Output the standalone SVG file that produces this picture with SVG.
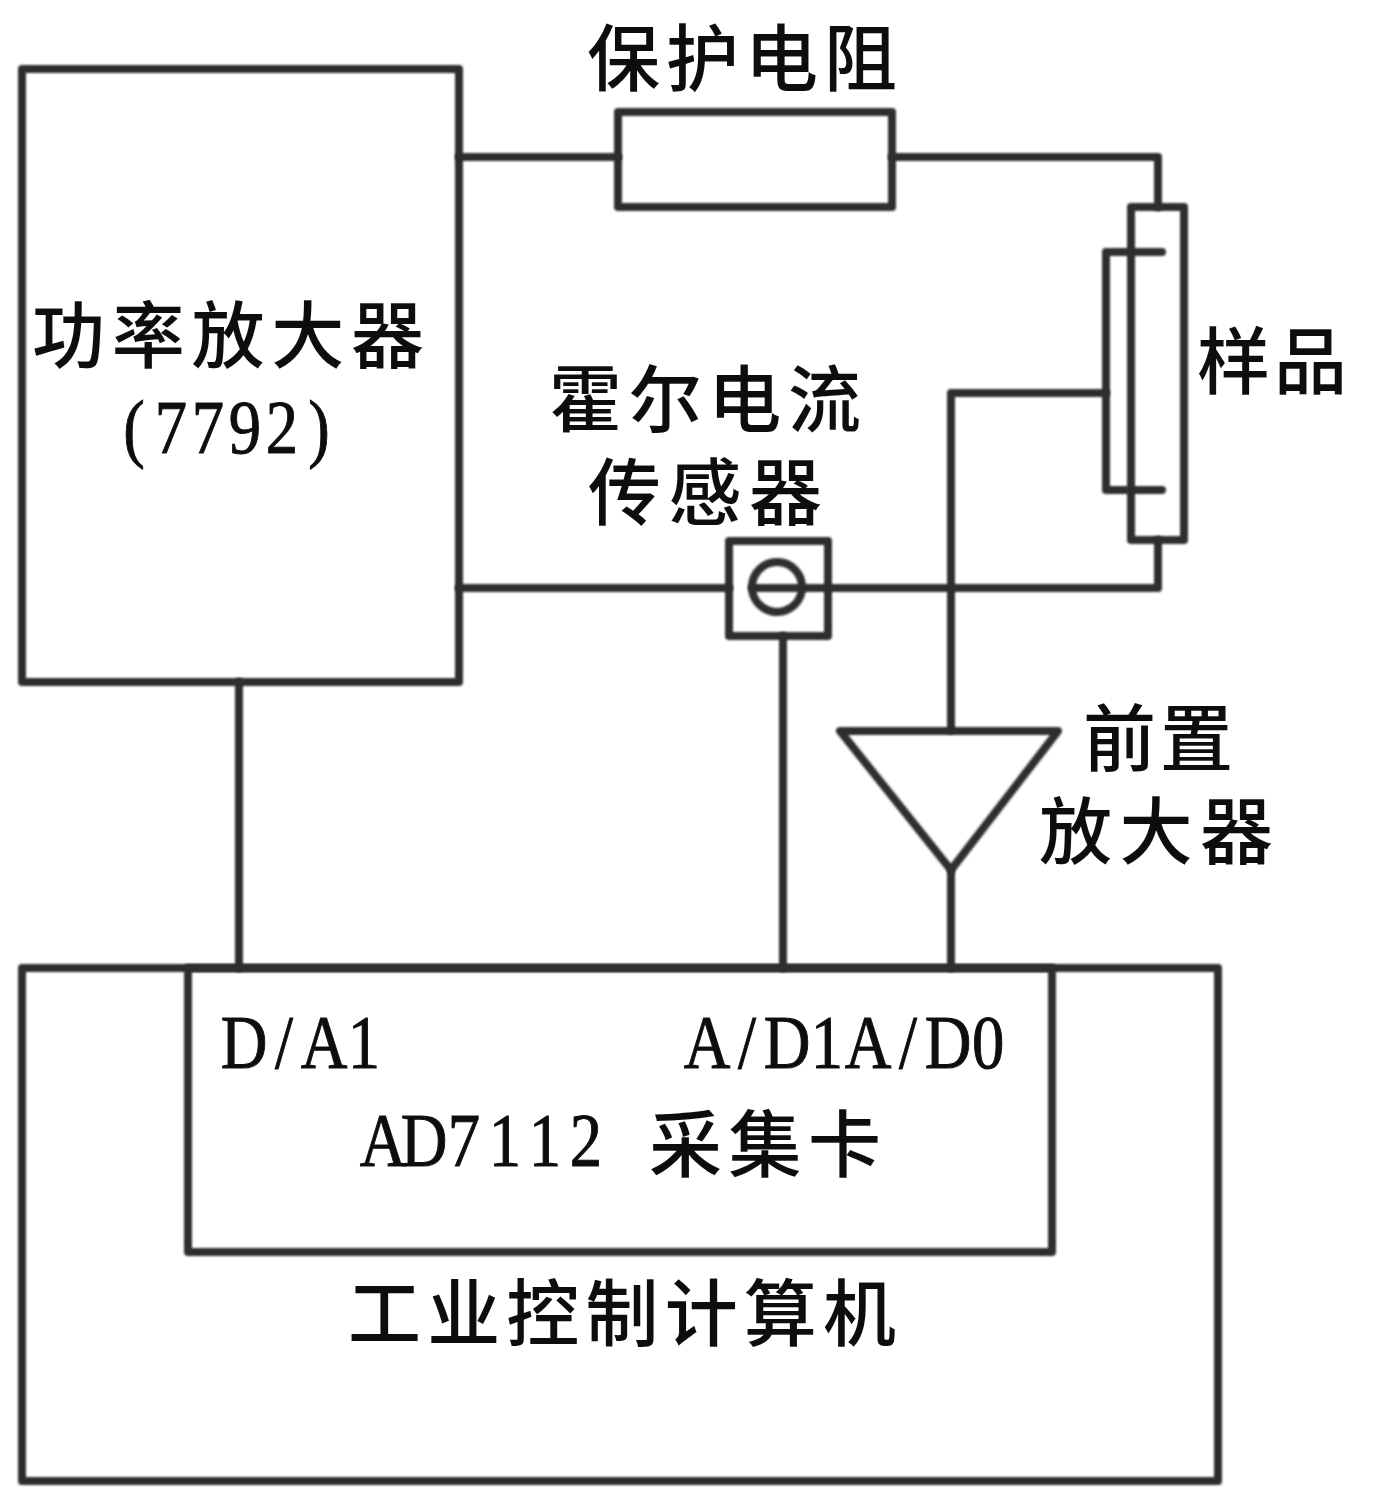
<svg xmlns="http://www.w3.org/2000/svg" width="1378" height="1505" viewBox="0 0 1378 1505">
<style>
.s{fill:none;stroke:#2e2e2e;stroke-width:8;stroke-linejoin:round;stroke-linecap:round;filter:url(#b)}
text{font-family:"Noto Sans CJK SC","Liberation Serif",serif;fill:#111;font-size:73px;font-weight:500;text-anchor:middle;filter:url(#t)}
.m{font-family:"Liberation Serif","Noto Sans CJK SC",serif;font-size:76px;font-weight:400;stroke:#111;stroke-width:1}
</style>
<defs>
<filter id="b" filterUnits="userSpaceOnUse" x="0" y="0" width="1378" height="1505"><feGaussianBlur stdDeviation="1.3"/></filter>
<filter id="t" filterUnits="userSpaceOnUse" x="0" y="0" width="1378" height="1505"><feGaussianBlur stdDeviation="0.6"/></filter>
</defs>
<rect width="1378" height="1505" fill="#fff"/>
<g id="connectors">
<path class="s" d="M459 157H618"/>
<path class="s" d="M892 157H1158V207"/>
<path class="s" d="M1162 252H1106V490H1162"/>
<path class="s" d="M1106 393H951V730"/>
<path class="s" d="M459 588H729"/>
<path class="s" d="M752 588H1158V540"/>
<path class="s" d="M239 682V968"/>
<path class="s" d="M783 636V968"/>
<path class="s" d="M951 870V968"/>
</g>
<g id="power-amp"><rect class="s" x="22" y="69" width="437" height="613"/>
<text x="228" y="362" textLength="392">功率放大器</text>
<text transform="scale(.85 1)" x="157.6 201.2 244.7 288.2 331.8 375.3" y="453" class="m">(7792)</text></g>
<g id="resistor"><rect class="s" x="618" y="112" width="274" height="95"/>
<text x="742" y="85" textLength="310">保护电阻</text></g>
<g id="sample"><rect class="s" x="1131" y="207" width="53" height="333"/>
<text x="1272" y="388" textLength="150">样品</text></g>
<g id="hall"><rect class="s" x="729" y="541" width="99" height="95"/><circle class="s" cx="777" cy="587" r="25"/>
<text x="705" y="426" textLength="312">霍尔电流</text>
<text x="705" y="519" textLength="234">传感器</text></g>
<g id="preamp"><path class="s" d="M840 731H1058L951 870Z"/>
<text x="1158" y="765" textLength="150">前置</text>
<text x="1156" y="858" textLength="234">放大器</text></g>
<g id="computer"><rect class="s" x="22" y="968" width="1196" height="513"/>
<text x="622" y="1340" textLength="548">工业控制计算机</text></g>
<g id="card"><rect class="s" x="188" y="968" width="864" height="284"/>
<text transform="scale(.85 1)" x="287.1 334.1 381.2 428.2" y="1068" class="m">D/A1</text>
<text transform="scale(.85 1)" x="831.8 878.8 925.9 972.9 1021.2 1068.2 1115.3 1162.4" y="1068" class="m">A/D1A/D0</text>
<text transform="scale(.85 1)" x="450.6 498.8 545.9 594.1 641.2 689.4" y="1166" class="m">AD7112</text>
<text x="765" y="1171" textLength="232">采集卡</text></g>
</svg>
